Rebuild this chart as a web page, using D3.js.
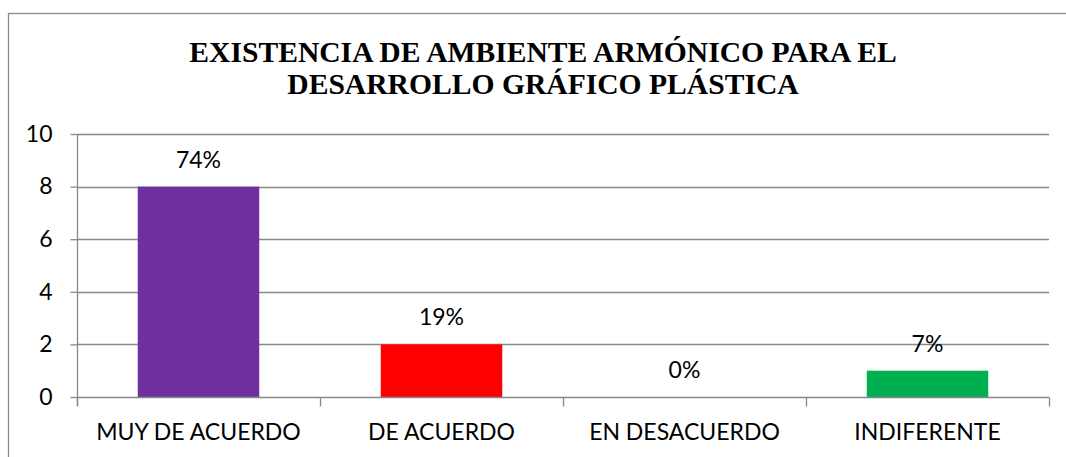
<!DOCTYPE html>
<html>
<head>
<meta charset="utf-8">
<script src="https://cdn.jsdelivr.net/npm/d3@7"></script>
<style>
  body { margin: 0; background: #fff; }
  svg { display: block; }
</style>
</head>
<body>
<div id="chart"></div>
<script>
const categories = ['MUY DE ACUERDO', 'DE ACUERDO', 'EN DESACUERDO', 'INDIFERENTE'];
const values = [8, 2, 0, 1];
const percentLabels = ['74%', '19%', '0%', '7%'];
const barColors = ['#7030A0', '#FF0000', '#4F81BD', '#00B050'];
const yTicks = [0, 2, 4, 6, 8, 10];
const titleLines = ['EXISTENCIA DE AMBIENTE ARMÓNICO PARA EL', 'DESARROLLO GRÁFICO PLÁSTICA'];

const WIDTH = 1066;
const HEIGHT = 457;
const AXIS_COLOR = '#898989';
const LABEL_FONT = 'Lato, "Open Sans", sans-serif';
const LABEL_SIZE = '23px';

const plot = { left: 77, right: 1049, top: 134, bottom: 397 };

const svg = d3.select('#chart').append('svg')
  .attr('width', WIDTH)
  .attr('height', HEIGHT);

// chart border, runs off the right and bottom edge like the original crop
svg.append('rect')
  .attr('x', 8.5)
  .attr('y', 13.5)
  .attr('width', 1100)
  .attr('height', 500)
  .style('fill', 'none')
  .style('stroke', AXIS_COLOR)
  .style('stroke-width', 1.3);

svg.append('text')
  .attr('x', 543)
  .attr('text-anchor', 'middle')
  .style('font-family', '"Liberation Serif", "Times New Roman", serif')
  .style('font-weight', 'bold')
  .style('font-size', '29.6px')
  .selectAll('tspan')
  .data(titleLines)
  .join('tspan')
  .attr('x', 543)
  .attr('y', (d, i) => 62 + i * 32)
  .text(d => d);

const x = d3.scaleBand()
  .domain(categories)
  .range([plot.left, plot.right])
  .paddingInner(0.5)
  .paddingOuter(0.25);

const y = d3.scaleLinear()
  .domain([0, 10])
  .range([plot.bottom, plot.top]);

// gridlines
svg.append('g')
  .selectAll('line')
  .data(yTicks.filter(t => t > 0))
  .join('line')
  .attr('x1', plot.left)
  .attr('x2', plot.right)
  .attr('y1', d => Math.round(y(d)) + 0.5)
  .attr('y2', d => Math.round(y(d)) + 0.5)
  .style('stroke', AXIS_COLOR)
  .style('stroke-width', 1.3);

// bars
svg.append('g')
  .selectAll('rect')
  .data(values)
  .join('rect')
  .attr('x', (d, i) => x(categories[i]))
  .attr('width', x.bandwidth())
  .attr('y', d => y(d))
  .attr('height', d => y(0) - y(d))
  .style('fill', (d, i) => barColors[i]);

// value labels
svg.append('g')
  .selectAll('text')
  .data(values)
  .join('text')
  .attr('x', (d, i) => x(categories[i]) + x.bandwidth() / 2)
  .attr('y', d => y(d) - 19)
  .attr('text-anchor', 'middle')
  .style('font-family', LABEL_FONT)
  .style('font-size', LABEL_SIZE)
  .style('fill', '#000')
  .text((d, i) => percentLabels[i]);

// y axis
const yAxis = svg.append('g')
  .attr('transform', `translate(${plot.left + 0.5},0)`)
  .call(d3.axisLeft(y).tickValues(yTicks).tickSize(7).tickPadding(18).tickFormat(d3.format('d')));

// x axis with boundary ticks between categories
const boundaries = d3.range(categories.length + 1).map(i => plot.left + i * (plot.right - plot.left) / categories.length);
const xAxis = svg.append('g')
  .attr('transform', `translate(0,${Math.round(y(0)) + 0.5})`);
xAxis.append('line')
  .attr('x1', plot.left)
  .attr('x2', plot.right)
  .style('stroke', AXIS_COLOR)
  .style('stroke-width', 1.3);
xAxis.selectAll('.btick')
  .data(boundaries)
  .join('line')
  .attr('class', 'btick')
  .attr('x1', d => Math.round(d) + 0.5)
  .attr('x2', d => Math.round(d) + 0.5)
  .attr('y1', 0)
  .attr('y2', 9)
  .style('stroke', AXIS_COLOR)
  .style('stroke-width', 1.3);
xAxis.selectAll('.clabel')
  .data(categories)
  .join('text')
  .attr('class', 'clabel')
  .attr('x', d => x(d) + x.bandwidth() / 2)
  .attr('y', 42)
  .attr('text-anchor', 'middle')
  .style('font-family', LABEL_FONT)
  .style('font-size', LABEL_SIZE)
  .style('fill', '#000')
  .text(d => d);

yAxis.select('.domain').style('stroke', AXIS_COLOR).style('stroke-width', 1.3)
  .attr('d', `M0,${plot.top}V${plot.bottom + 9}`);
yAxis.selectAll('.tick line').style('stroke', AXIS_COLOR).style('stroke-width', 1.3);
yAxis.selectAll('.tick text')
  .style('font-family', LABEL_FONT)
  .style('font-size', LABEL_SIZE)
  .style('fill', '#000');
</script>
</body>
</html>
